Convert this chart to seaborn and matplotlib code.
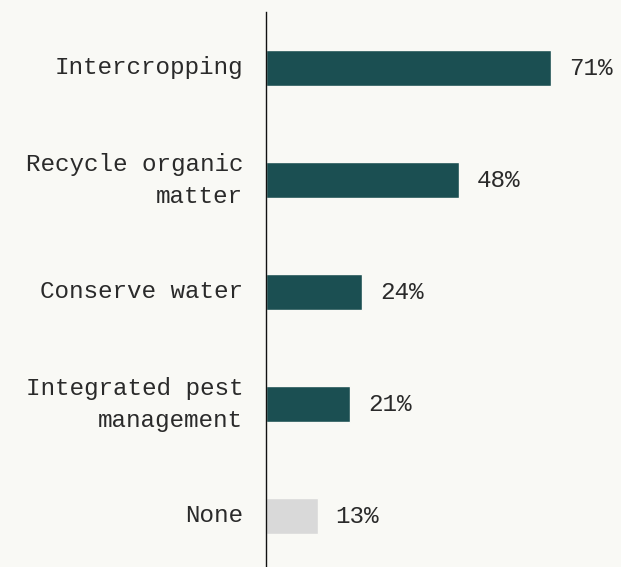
import matplotlib
matplotlib.use("Agg")
import matplotlib.pyplot as plt
import matplotlib.transforms as mtransforms
import seaborn as sns
import pandas as pd

# Share of respondents using each practice
practices = [
    "Intercropping",
    "Recycle organic\nmatter",
    "Conserve water",
    "Integrated pest\nmanagement",
    "None",
]
shares = [71, 48, 24, 21, 13]
bar_colors = ["#1b4f52", "#1b4f52", "#1b4f52", "#1b4f52", "#d9d9d9"]

BG = "#f9f9f5"
TEXT = "#2a2a2a"
FS = 17.5

sns.set_theme(style="white")
plt.rcParams["font.family"] = ["Liberation Mono", "DejaVu Sans Mono"]

df = pd.DataFrame({"practice": practices, "share": shares})

fig = plt.figure(figsize=(6.21, 5.67), dpi=100, facecolor=BG)
ax = fig.add_axes([266 / 621, 0, 355 / 621, 555 / 567])
ax.set_facecolor(BG)

sns.barplot(
    data=df, x="share", y="practice", hue="practice",
    palette=dict(zip(practices, bar_colors)), legend=False, saturation=1,
    width=0.315, edgecolor=BG, linewidth=1.0, ax=ax,
)

for cont in ax.containers:
    ax.bar_label(cont, fmt="%d%%", padding=12.5, fontsize=FS, color=TEXT)

ax.set_xlim(0, 355 / 4.02)
ax.set_ylim(4.455, -0.5)
ax.set_xlabel("")
ax.set_ylabel("")
ax.set_xticks([])
ax.tick_params(axis="y", length=0, pad=16.5, labelsize=FS, labelcolor=TEXT)

# Nudge the category labels up so the text sits optically centred on each bar
for lab in ax.get_yticklabels():
    lab.set_horizontalalignment("right")
    lab.set_multialignment("right")
    lab.set_linespacing(1.55)
    dy = 7 if "\n" in lab.get_text() else 3
    lab.set_transform(lab.get_transform() + mtransforms.ScaledTranslation(
        0, dy / 100, fig.dpi_scale_trans))

for side in ["top", "right", "bottom"]:
    ax.spines[side].set_visible(False)
ax.spines["left"].set_color("#111111")
ax.spines["left"].set_linewidth(1.0)

fig.savefig("out.png", dpi=100, facecolor=BG)
